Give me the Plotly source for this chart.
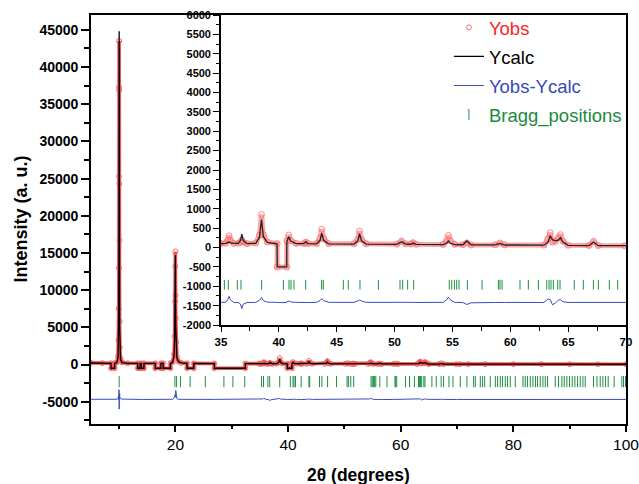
import numpy as np
import plotly.graph_objects as go

# ---------------- data ----------------
# profile vertices, region 5-35 deg (2theta, Ycalc, Yobs)
tt_low = [5.00, 7.00, 8.55, 8.56, 9.20, 9.21, 9.60, 9.80, 9.88, 9.92, 9.95, 9.97, 9.99, 10.00,
          10.01, 10.03, 10.05, 10.08, 10.12, 10.25, 10.50, 11.50, 13.30, 13.31, 13.70, 13.71,
          13.95, 13.96, 14.40, 14.41, 16.40, 16.41, 17.40, 17.41, 17.80, 17.81, 19.10, 19.11,
          19.50, 19.75, 19.85, 19.92, 19.96, 19.98, 20.01, 20.05, 20.10, 20.25, 20.50, 21.00,
          22.05, 22.06, 23.25, 23.26, 26.90, 26.91, 32.40, 32.41, 34.90]
calc_low = [200, 180, 160, -500, -500, 170, 250, 1000, 3000, 7000, 13000, 24000, 37000, 44800,
            37000, 24000, 16000, 5000, 2000, 700, 250, 160, 140, -500, -500, 120,
            120, -500, -500, 140, 140, -500, -500, 140, 140, -500, -500, 150,
            300, 1200, 3500, 8000, 12500, 14700, 9000, 5000, 2500, 900, 400, 220,
            150, -500, -500, 140, 130, -500, -500, 120, 110]
obs_low = [220, 190, 170, -500, -500, 180, 280, 1100, 3300, 7500, 13000, 25300, 37300, 43500,
           36900, 24300, 16700, 5800, 2300, 800, 300, 170, 150, -500, -500, 130,
           130, -500, -500, 150, 150, -500, -500, 150, 150, -500, -500, 160,
           320, 1400, 3800, 8500, 13200, 15200, 9300, 6200, 3000, 1000, 420, 230,
           160, -500, -500, 150, 140, -500, -500, 130, 115]

# region 35-70 deg (shown enlarged in the inset)
tt_mid = [35.00, 35.40, 35.58, 35.70, 35.82, 36.10, 36.50, 36.68, 36.80, 36.92, 37.25, 38.00,
          38.32, 38.50, 38.66, 39.00, 39.85, 39.86, 40.68, 40.69, 40.85, 41.05, 41.50, 42.15,
          42.33, 42.50, 43.25, 43.55, 43.70, 43.88, 44.30, 46.50, 46.82, 46.97, 47.15, 47.55,
          50.20, 50.60, 50.95, 51.40, 51.60, 51.85, 54.20, 54.50, 54.65, 54.82, 55.20, 55.90,
          56.25, 56.60, 58.70, 59.10, 59.50, 62.90, 63.25, 63.45, 63.65, 63.90, 64.15, 64.33,
          64.55, 65.00, 66.80, 67.20, 67.60, 69.90]
calc_mid = [100, 105, 120, 140, 120, 105, 110, 180, 345, 180, 100, 110,
            260, 720, 280, 130, 95, -500, -500, 150, 280, 160, 100, 100,
            150, 100, 95, 180, 370, 180, 95, 90, 170, 355, 170, 90,
            80, 150, 90, 85, 115, 80, 75, 110, 170, 110, 75, 72,
            170, 72, 68, 105, 65, 60, 130, 300, 200, 170, 190, 255,
            140, 55, 50, 140, 48, 42]
obs_mid = [105, 110, 190, 300, 190, 105, 110, 140, 190, 140, 100, 115,
           320, 850, 330, 140, 100, -500, -500, 170, 320, 175, 105, 100,
           140, 100, 100, 230, 470, 230, 100, 95, 210, 420, 210, 95,
           85, 165, 95, 90, 125, 82, 80, 180, 310, 180, 80, 72,
           120, 65, 70, 115, 68, 62, 220, 380, 140, 160, 250, 330,
           160, 58, 52, 160, 50, 42]

# region 70-100 deg
tt_high = [70.50, 72.00, 75.00, 80.00, 85.00, 90.00, 95.00, 100.00]
calc_high = [40, 40, 38, 36, 35, 34, 33, 32]
obs_high = [42, 45, 40, 38, 36, 35, 34, 33]

# Bragg reflection positions (deg 2theta)
bragg_low = [10.0, 19.9, 20.2, 20.9, 22.6, 25.3, 28.6, 30.2, 32.3]
bragg_mid = [35.29, 35.63, 36.41, 36.73, 38.51, 40.39, 40.88, 41.05, 41.31, 42.32, 43.70, 43.84,
             45.57, 46.00, 47.01, 48.60, 50.47, 50.70, 51.13, 51.65, 54.73, 54.94, 55.17, 55.37,
             55.57, 56.29, 57.56, 58.97, 59.11, 59.29, 60.84, 61.56, 62.43, 63.15, 63.35, 63.52,
             63.72, 64.10, 64.30, 65.53, 66.31, 67.18, 67.61, 68.56, 69.28]
bragg_high = [70.58, 71.76, 72.94, 73.24, 74.13, 74.54, 74.90, 75.90, 76.80, 77.20, 77.68, 78.08,
              78.56, 78.97, 79.45, 80.34, 81.70, 82.10, 82.50, 83.00, 83.47, 83.94, 84.30, 84.77,
              85.25, 85.66, 86.07, 87.43, 88.02, 88.62, 89.03, 89.50, 89.97, 90.45, 90.92, 91.40,
              91.87, 92.35, 92.76, 94.23, 94.84, 95.42, 95.90, 96.37, 96.84, 97.90, 99.27, 99.56,
              99.91]

main_ytick_vals = [-5000, 0, 5000, 10000, 15000, 20000, 25000, 30000, 35000, 40000, 45000]
inset_ytick_vals = list(range(-2000, 6001, 500))

main_diff_offset = -4700
inset_diff_offset = -1420
main_bragg_level = -2300
inset_bragg_level = -960

# ---------------- assemble ----------------
two_theta = np.array(tt_low + tt_mid + tt_high, dtype=float)
y_calc = np.array(calc_low + calc_mid + calc_high, dtype=float)
y_obs = np.array(obs_low + obs_mid + obs_high, dtype=float)
y_diff = y_obs - y_calc
bragg = bragg_low + bragg_mid + bragg_high

RED = "rgba(235,35,35,0.78)"
RED_PT = "rgba(240,90,90,0.85)"
BLUE = "#3b4cc0"
GREEN = "#1f8f45"
FONT = "Arial, Liberation Sans, Helvetica, sans-serif"

fig = go.Figure()

# main panel
fig.add_trace(go.Scatter(x=two_theta, y=y_obs, mode="lines", line=dict(color=RED, width=3.6),
                         showlegend=False, hoverinfo="skip", xaxis="x", yaxis="y"))
fig.add_trace(go.Scatter(x=two_theta, y=y_obs, mode="markers",
                         marker=dict(symbol="circle-open", size=5, color=RED_PT, line=dict(width=1)),
                         name='<span style="color:#ff2525">Yobs</span>', legendgroup="g1",
                         xaxis="x", yaxis="y"))
fig.add_trace(go.Scatter(x=two_theta, y=y_calc, mode="lines", line=dict(color="black", width=1.3),
                         name='<span style="color:#000000">Ycalc</span>', legendgroup="g2",
                         xaxis="x", yaxis="y"))
fig.add_trace(go.Scatter(x=two_theta, y=y_diff + main_diff_offset, mode="lines",
                         line=dict(color=BLUE, width=1),
                         name='<span style="color:#3848b8">Yobs-Ycalc</span>', legendgroup="g3",
                         xaxis="x", yaxis="y"))
fig.add_trace(go.Scatter(x=bragg, y=[main_bragg_level] * len(bragg), mode="markers",
                         marker=dict(symbol="line-ns", size=8, color=GREEN, line=dict(color=GREEN, width=1)),
                         name='<span style="color:#1a8a3c">Bragg_positions</span>', legendgroup="g4",
                         xaxis="x", yaxis="y"))

# inset panel
fig.add_trace(go.Scatter(x=two_theta, y=y_obs, mode="lines", line=dict(color="rgba(255,90,90,0.55)", width=5),
                         showlegend=False, hoverinfo="skip", xaxis="x2", yaxis="y2"))
fig.add_trace(go.Scatter(x=two_theta, y=y_obs, mode="markers",
                         marker=dict(symbol="circle-open", size=6, color="rgba(250,110,110,0.8)", line=dict(width=1)),
                         showlegend=False, xaxis="x2", yaxis="y2"))
fig.add_trace(go.Scatter(x=two_theta, y=y_calc, mode="lines", line=dict(color="#222222", width=1.3),
                         showlegend=False, xaxis="x2", yaxis="y2"))
fig.add_trace(go.Scatter(x=two_theta, y=y_diff + inset_diff_offset, mode="lines",
                         line=dict(color=BLUE, width=1), showlegend=False, xaxis="x2", yaxis="y2"))
fig.add_trace(go.Scatter(x=bragg, y=[inset_bragg_level] * len(bragg), mode="markers",
                         marker=dict(symbol="line-ns", size=7, color=GREEN, line=dict(color=GREEN, width=1)),
                         showlegend=False, xaxis="x2", yaxis="y2"))

axis_line = dict(showline=True, linecolor="black", linewidth=1.6, showgrid=False, zeroline=False)

fig.update_layout(
    width=639, height=484,
    margin=dict(l=91, r=13, t=15, b=60, autoexpand=False),
    paper_bgcolor="white", plot_bgcolor="white",
    font=dict(family=FONT, color="black"),
    xaxis=dict(domain=[0, 1], range=[5, 100], tick0=0, dtick=20,
               ticks="outside", ticklen=6, tickwidth=1.5, tickcolor="black",
               tickfont=dict(size=15.5, family=FONT), ticklabeloverflow="allow",
               minor=dict(tick0=0, dtick=10, ticks="outside", ticklen=3.5, tickwidth=1.5, tickcolor="black"),
               mirror=True, automargin=False, **axis_line),
    yaxis=dict(domain=[0, 1], range=[-8000, 47000], tickmode="array",
               tickvals=main_ytick_vals, ticktext=[str(v) for v in main_ytick_vals],
               ticks="outside", ticklen=8, tickwidth=1.5, tickcolor="black",
               tickfont=dict(size=14, family=FONT, weight="bold"),
               minor=dict(tickmode="linear", tick0=0, dtick=2500, ticks="outside", ticklen=5,
                          tickwidth=1.5, tickcolor="black"),
               mirror=True, automargin=False, **axis_line),
    xaxis2=dict(domain=[0.243, 1], range=[35, 70], anchor="y2", tick0=35, dtick=5,
                ticks="outside", ticklen=5, tickwidth=1.3, tickcolor="black",
                tickfont=dict(size=11.5, family=FONT, weight="bold"), ticklabeloverflow="allow",
                minor=dict(tick0=35, dtick=2.5, ticks="outside", ticklen=4, tickwidth=1.3, tickcolor="black"),
                automargin=False, **axis_line),
    yaxis2=dict(domain=[0.242, 1], range=[-2000, 6000], anchor="x2", tickmode="array",
                tickvals=inset_ytick_vals, ticktext=[str(v) for v in inset_ytick_vals],
                ticks="outside", ticklen=6, tickwidth=1.3, tickcolor="black",
                tickfont=dict(size=11, family=FONT, weight="bold"),
                minor=dict(tickmode="linear", tick0=0, dtick=250, ticks="outside", ticklen=3,
                           tickwidth=1.3, tickcolor="black"),
                automargin=False, **axis_line),
    legend=dict(x=0.669, y=1.015, xanchor="left", yanchor="top", bgcolor="rgba(0,0,0,0)",
                font=dict(size=18.5, family=FONT), traceorder="grouped", tracegroupgap=2),
    annotations=[
        dict(text="<b>2θ (degrees)</b>", xref="paper", yref="paper", x=0.5, y=-0.124,
             xanchor="center", yanchor="middle", showarrow=False, font=dict(size=17.5, family=FONT)),
        dict(text="<b>Intensity (a. u.)</b>", xref="paper", yref="paper", x=-0.1327, y=0.5,
             xanchor="center", yanchor="middle", textangle=-90, showarrow=False,
             font=dict(size=18, family=FONT)),
    ],
)

fig.write_html("out.html")
